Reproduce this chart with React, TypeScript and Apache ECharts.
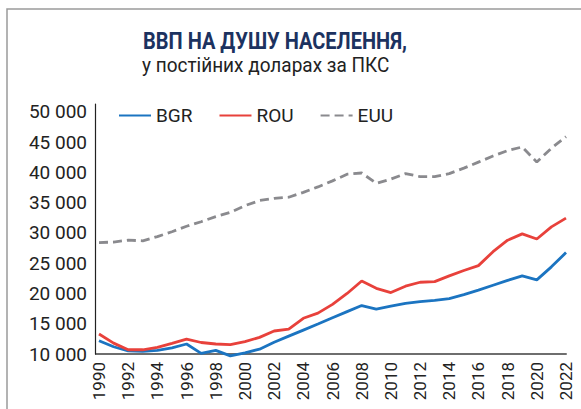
import React, { useEffect, useRef } from "react";
import * as echarts from "echarts";

const years = ["1990","1991","1992","1993","1994","1995","1996","1997","1998","1999","2000","2001","2002","2003","2004","2005","2006","2007","2008","2009","2010","2011","2012","2013","2014","2015","2016","2017","2018","2019","2020","2021","2022"];
const bgr = [12200, 11200, 10500, 10450, 10600, 11000, 11650, 10100, 10600, 9700, 10200, 10800, 11950, 12950, 13950, 14950, 16000, 17000, 18000, 17400, 17900, 18350, 18650, 18850, 19150, 19800, 20550, 21350, 22150, 22900, 22250, 24400, 26750];
const rou = [13300, 11800, 10700, 10700, 11100, 11750, 12450, 11900, 11650, 11550, 12050, 12750, 13800, 14100, 15900, 16750, 18200, 20000, 22050, 20850, 20150, 21200, 21850, 21950, 22900, 23800, 24600, 26900, 28800, 29850, 29000, 31000, 32450];
const euu = [28400, 28500, 28800, 28700, 29400, 30200, 31100, 31850, 32700, 33400, 34500, 35350, 35700, 35900, 36700, 37600, 38600, 39700, 39900, 38200, 38900, 39800, 39300, 39300, 39800, 40700, 41700, 42700, 43600, 44200, 41700, 44000, 45900];
const seriesNames = ["BGR", "ROU", "EUU"];
const titleText = "ВВП НА ДУШУ НАСЕЛЕННЯ,";
const subtitleText = "у постійних доларах за ПКС";

export default function App() {
  const ref = useRef<HTMLDivElement>(null);
  useEffect(() => {
    if (!ref.current) return;
    const chart = echarts.init(ref.current, null, { renderer: "svg" });
    const font = "Roboto, 'Noto Sans', sans-serif";
    chart.setOption({
      animation: false,
      backgroundColor: "#ffffff",
      graphic: [
        {
          type: "rect",
          shape: { x: 7, y: 9, width: 600, height: 420 },
          style: { fill: "none", stroke: "#9a9a9a", lineWidth: 1.5 },
          silent: true,
        },
        {
          type: "text",
          x: 143,
          y: 41,
          scaleX: 0.87,
          style: {
            text: titleText,
            font: `bold 23px ${font}`,
            fill: "#1c3260",
            textVerticalAlign: "middle",
          },
        },
        {
          type: "text",
          x: 142,
          y: 65,
          scaleX: 0.95,
          style: {
            text: subtitleText,
            font: `20px ${font}`,
            fill: "#222222",
            textVerticalAlign: "middle",
          },
        },
        {
          type: "line",
          shape: { x1: 95, y1: 354, x2: 100, y2: 354 },
          style: { stroke: "#6e6e6e", lineWidth: 2 },
        },
      ],
      legend: {
        left: 113,
        top: 101,
        itemWidth: 32,
        itemHeight: 20,
        itemGap: 26,
        data: seriesNames,
        itemStyle: { opacity: 0 },
        textStyle: { fontFamily: font, fontSize: 19, color: "#222222" },
      },
      grid: { left: 99, right: 15, top: 104, bottom: 55 },
      xAxis: {
        type: "category",
        data: years,
        boundaryGap: false,
        axisLine: { lineStyle: { color: "#6e6e6e", width: 2 } },
        axisTick: { show: false },
        axisLabel: {
          rotate: 90,
          interval: 1,
          margin: 8,
          fontFamily: font,
          fontSize: 17,
          color: "#222222",
        },
        splitLine: { show: false },
      },
      yAxis: {
        type: "value",
        min: 10000,
        max: 51300,
        interval: 5000,
        offset: 4,
        axisLine: { show: true, lineStyle: { color: "#222222", width: 1.2 } },
        axisTick: { show: false },
        splitLine: { show: false },
        axisLabel: {
          showMaxLabel: false,
          margin: 8,
          fontFamily: font,
          fontSize: 19,
          color: "#222222",
          formatter: (v: number) => String(v).replace(/\B(?=(\d{3})+(?!\d))/g, " "),
        },
      },
      series: [
        {
          name: seriesNames[0],
          type: "line",
          data: bgr,
          symbol: "none",
          clip: false,
          lineStyle: { color: "#1b74c1", width: 2.8 },
          itemStyle: { color: "#1b74c1" },
        },
        {
          name: seriesNames[1],
          type: "line",
          data: rou,
          symbol: "none",
          clip: false,
          lineStyle: { color: "#e8413b", width: 2.8 },
          itemStyle: { color: "#e8413b" },
        },
        {
          name: seriesNames[2],
          type: "line",
          data: euu,
          symbol: "none",
          clip: false,
          lineStyle: { color: "#8a8a8e", width: 2.8, type: [9, 5] },
          itemStyle: { color: "#8a8a8e" },
        },
      ],
    });
    return () => chart.dispose();
  }, []);
  return (
    <div
      ref={ref}
      style={{ position: "absolute", left: 0, top: 0, width: 581, height: 409 }}
    />
  );
}
